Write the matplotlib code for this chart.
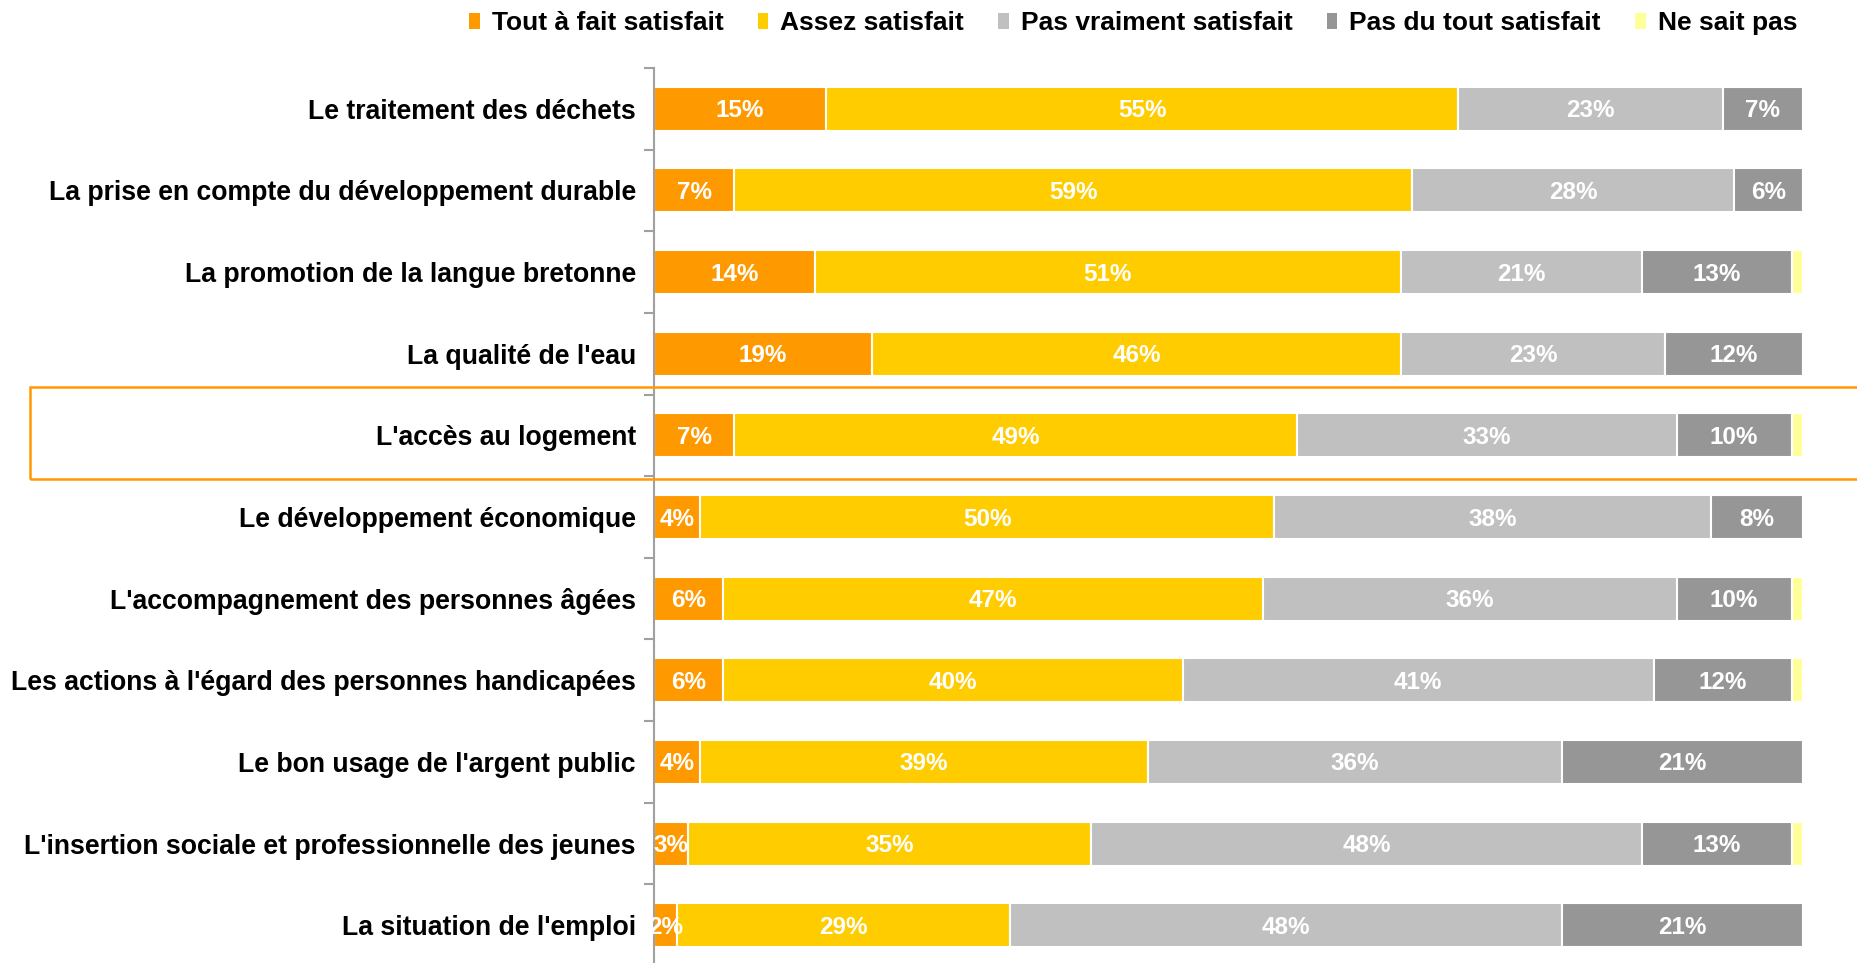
import matplotlib
matplotlib.use("Agg")
import matplotlib.pyplot as plt
import matplotlib.patches as mpatches
import numpy as np

# ── Data ──────────────────────────────────────────────────────────────────────
CATEGORIES = [
    "Le traitement des déchets",
    "La prise en compte du développement durable",
    "La promotion de la langue bretonne",
    "La qualité de l'eau",
    "L'accès au logement",
    "Le développement économique",
    "L'accompagnement des personnes âgées",
    "Les actions à l'égard des personnes handicapées",
    "Le bon usage de l'argent public",
    "L'insertion sociale et professionnelle des jeunes",
    "La situation de l'emploi",
]
SERIES = [
    "Tout à fait satisfait",
    "Assez satisfait",
    "Pas vraiment satisfait",
    "Pas du tout satisfait",
    "Ne sait pas",
]
tout_a_fait = [15, 7, 14, 19, 7, 4, 6, 6, 4, 3, 2]
assez = [55, 59, 51, 46, 49, 50, 47, 40, 39, 35, 29]
pas_vraiment = [23, 28, 21, 23, 33, 38, 36, 41, 36, 48, 48]
pas_du_tout = [7, 6, 13, 12, 10, 8, 10, 12, 21, 13, 21]
ne_sait_pas = [0, 0, 1, 0, 1, 0, 1, 1, 0, 1, 0]
HIGHLIGHT = "L'accès au logement"

# ── Style ─────────────────────────────────────────────────────────────────────
COLORS = ["#FF9900", "#FFCC00", "#C0C0C0", "#969696", "#FFFF99"]
FONT = "Liberation Sans"

W, H = 1858, 963
fig = plt.figure(figsize=(W / 100, H / 100), dpi=100)
ax = fig.add_axes([654 / W, -3 / H, (1803 - 654) / W, (966 - 68) / H])

y = np.arange(len(CATEGORIES))
left = np.zeros(len(CATEGORIES))
for name, vals, color in zip(SERIES, [tout_a_fait, assez, pas_vraiment, pas_du_tout, ne_sait_pas], COLORS):
    vals = np.array(vals, dtype=float)
    ax.barh(y, vals, left=left, height=0.54, color=color,
            edgecolor="white", linewidth=1.5, label=name)
    if name != "Ne sait pas":
        for yi, l, v in zip(y, left, vals):
            if v > 0:
                ax.annotate(f"{v:.0f}%", (l + v / 2, yi), xytext=(0, -1.5),
                            textcoords="offset points", ha="center", va="center",
                            color="white", fontsize=17.5, fontweight="bold",
                            family=FONT)
    left += vals

ax.set_xlim(0, 100)
ax.set_ylim(len(CATEGORIES) - 0.5, -0.5)
ax.set_yticks(y)
ax.set_yticklabels(CATEGORIES, fontsize=19.2, fontweight="bold", family=FONT)
ax.tick_params(axis="y", which="major", length=0, pad=13)
ax.set_yticks(np.arange(len(CATEGORIES) + 1) - 0.5, minor=True)
ax.tick_params(axis="y", which="minor", length=7, width=1.5, color="#A0A0A0",
               direction="out")
ax.set_xticks([])
for s in ["top", "right", "bottom"]:
    ax.spines[s].set_visible(False)
ax.spines["left"].set_color("#A0A0A0")
ax.spines["left"].set_linewidth(1.5)

# ── Legend ────────────────────────────────────────────────────────────────────
labels = SERIES
handles = [mpatches.Patch(facecolor=c, edgecolor="none") for c in COLORS]
fig.legend(handles, labels, loc="center right", bbox_to_anchor=(1797 / W, 1 - 23 / H),
           ncol=5, frameon=False, prop={"family": FONT, "weight": "bold", "size": 19},
           handlelength=0.4, handleheight=0.55, handletextpad=0.45,
           columnspacing=1.3, borderpad=0, borderaxespad=0)

# ── Highlight box ─────────────────────────────────────────────────────────────
box = mpatches.Rectangle((30 / W, 1 - 479 / H), 1.0, 92 / H,
                         transform=fig.transFigure, fill=False,
                         edgecolor="#FF9900", linewidth=1.8, clip_on=False)
fig.patches.append(box)

fig.savefig("out.png", dpi=100)
